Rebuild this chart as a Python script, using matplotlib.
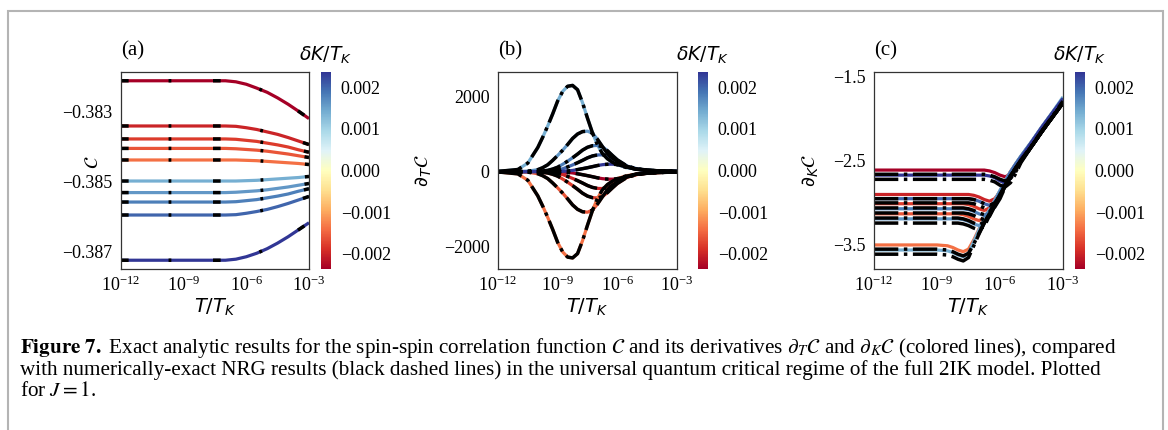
import numpy as np
import matplotlib
matplotlib.use('Agg')
import matplotlib.pyplot as plt
from matplotlib import colors
from matplotlib.patches import Rectangle
from matplotlib.ticker import FixedLocator, FuncFormatter, NullLocator

plt.rcParams['font.family'] = ['Liberation Serif', 'DejaVu Serif']
plt.rcParams['mathtext.fontset'] = 'dejavusans'

# delta K / T_K of each curve (colour)
DK = [-0.00237, -0.0020, -0.0018, -0.0016, -0.0014,
      0.0014, 0.0016, 0.0018, 0.0020, 0.00237]

# (a) C vs log10(T/T_K)
LOGT_A = [-12, -7, -6.5, -6, -5.5, -5, -4.5, -4, -3.5, -3]
C_A = [
    [-0.38212, -0.38212, -0.38215, -0.38222, -0.38233, -0.38245, -0.38261, -0.38279, -0.38299, -0.38320],
    [-0.38341, -0.38341, -0.38342, -0.38346, -0.38351, -0.38358, -0.38365, -0.38374, -0.38384, -0.38394],
    [-0.38378, -0.38378, -0.38379, -0.38382, -0.38385, -0.38390, -0.38395, -0.38401, -0.38409, -0.38416],
    [-0.38405, -0.38405, -0.38406, -0.38408, -0.38410, -0.38413, -0.38417, -0.38421, -0.38426, -0.38431],
    [-0.38438, -0.38438, -0.38438, -0.38439, -0.38440, -0.38442, -0.38444, -0.38446, -0.38448, -0.38451],
    [-0.38498, -0.38498, -0.38498, -0.38497, -0.38496, -0.38494, -0.38492, -0.38490, -0.38488, -0.38485],
    [-0.38531, -0.38531, -0.38530, -0.38528, -0.38526, -0.38523, -0.38519, -0.38515, -0.38510, -0.38505],
    [-0.38558, -0.38558, -0.38557, -0.38554, -0.38551, -0.38546, -0.38541, -0.38535, -0.38527, -0.38520],
    [-0.38595, -0.38595, -0.38594, -0.38590, -0.38585, -0.38579, -0.38571, -0.38562, -0.38552, -0.38542],
    [-0.38724, -0.38724, -0.38721, -0.38714, -0.38704, -0.38691, -0.38675, -0.38657, -0.38637, -0.38617],
]

# (b) d_T C
LOGT_B = [-12, -11, -10.5, -10, -9.75, -9.5, -9.25, -9, -8.75, -8.5, -8.25, -8, -7.75,
          -7.5, -7.25, -7, -6.75, -6.5, -6.25, -6, -5.5, -5, -4.5, -4, -3]
DTC_B = [
    [0, 0, 0, -1, -1, -2, -2, -5, -10, -20, -34, -56, -80, -106, -134, -164, -186, -198, -200, -190, -124, -62, -30, -16, -6],
    [0, 0, -1, -4, -5, -11, -23, -45, -77, -126, -180, -239, -302, -369, -419, -446, -450, -428, -360, -279, -140, -68, -36, -20, -8],
    [0, -1, -4, -8, -18, -35, -70, -119, -196, -280, -371, -469, -574, -651, -693, -700, -665, -560, -434, -315, -147, -77, -42, -25, -8],
    [0, -5, -13, -54, -108, -184, -302, -432, -572, -724, -886, -1004, -1069, -1080, -1026, -864, -670, -486, -335, -227, -119, -65, -38, -24, -8],
    [-7, -58, -230, -644, -920, -1219, -1541, -1886, -2139, -2277, -2300, -2185, -1840, -1426, -1035, -713, -483, -345, -253, -184, -104, -64, -39, -23, -7],
    [7, 58, 230, 644, 920, 1219, 1541, 1886, 2139, 2277, 2300, 2185, 1840, 1426, 1035, 713, 483, 345, 253, 184, 104, 64, 39, 23, 7],
    [0, 5, 13, 54, 108, 184, 302, 432, 572, 724, 886, 1004, 1069, 1080, 1026, 864, 670, 486, 335, 227, 119, 65, 38, 24, 8],
    [0, 1, 4, 8, 18, 35, 70, 119, 196, 280, 371, 469, 574, 651, 693, 700, 665, 560, 434, 315, 147, 77, 42, 25, 8],
    [0, 0, 1, 4, 5, 11, 23, 45, 77, 126, 180, 239, 302, 369, 419, 446, 450, 428, 360, 279, 140, 68, 36, 20, 8],
    [0, 0, 0, 1, 1, 2, 2, 5, 10, 20, 34, 56, 80, 106, 134, 164, 186, 198, 200, 190, 124, 62, 30, 16, 6],
]

# (c) d_K C
LOGT_C = [-12, -9, -8.5, -8.25, -8, -7.75, -7.5, -7.25, -7, -6.75, -6.5,
          -6.25, -6, -5.75, -5.5, -5.25, -5, -4.5, -4, -3.5, -3]
DKC_C = [
    [-2.61, -2.61, -2.61, -2.61, -2.61, -2.61, -2.61, -2.61, -2.61, -2.61, -2.62, -2.64, -2.67, -2.69, -2.66, -2.58, -2.46, -2.28, -2.10, -1.93, -1.76],
    [-2.90, -2.90, -2.90, -2.90, -2.90, -2.90, -2.90, -2.91, -2.93, -2.96, -2.98, -2.95, -2.87, -2.75, -2.64, -2.54, -2.45, -2.28, -2.10, -1.93, -1.76],
    [-3.01, -3.01, -3.01, -3.01, -3.01, -3.01, -3.02, -3.04, -3.07, -3.09, -3.06, -2.97, -2.86, -2.74, -2.63, -2.54, -2.45, -2.28, -2.10, -1.93, -1.76],
    [-3.13, -3.13, -3.13, -3.13, -3.13, -3.14, -3.16, -3.19, -3.21, -3.18, -3.08, -2.97, -2.86, -2.74, -2.63, -2.54, -2.45, -2.28, -2.10, -1.93, -1.76],
    [-3.50, -3.50, -3.51, -3.53, -3.56, -3.58, -3.55, -3.44, -3.31, -3.19, -3.08, -2.97, -2.86, -2.74, -2.63, -2.54, -2.45, -2.28, -2.10, -1.93, -1.76],
    [-3.56, -3.56, -3.57, -3.59, -3.62, -3.64, -3.60, -3.46, -3.32, -3.19, -3.08, -2.97, -2.85, -2.74, -2.63, -2.53, -2.44, -2.27, -2.09, -1.92, -1.74],
    [-3.19, -3.19, -3.19, -3.19, -3.19, -3.20, -3.22, -3.25, -3.27, -3.23, -3.10, -2.98, -2.86, -2.74, -2.63, -2.54, -2.45, -2.28, -2.10, -1.93, -1.76],
    [-3.07, -3.07, -3.07, -3.07, -3.07, -3.07, -3.08, -3.10, -3.13, -3.15, -3.11, -2.99, -2.87, -2.75, -2.64, -2.54, -2.45, -2.28, -2.10, -1.93, -1.76],
    [-2.95, -2.95, -2.95, -2.95, -2.95, -2.95, -2.95, -2.96, -2.98, -3.01, -3.03, -3.00, -2.90, -2.76, -2.64, -2.54, -2.45, -2.28, -2.10, -1.93, -1.76],
    [-2.67, -2.67, -2.67, -2.67, -2.67, -2.67, -2.67, -2.67, -2.67, -2.67, -2.68, -2.70, -2.74, -2.76, -2.71, -2.60, -2.47, -2.28, -2.10, -1.93, -1.76],
]
NRG_SHIFT_C = 0.05  # NRG curves sit slightly below in (c)

CBAR_TICKS = [-0.002, -0.001, 0.0, 0.001, 0.002]
XTICKS = [1e-12, 1e-9, 1e-6, 1e-3]

W, H = 1168, 430
fig = plt.figure(figsize=(W / 100, H / 100), dpi=100)

cmap = plt.get_cmap('RdYlBu')
norm = colors.Normalize(vmin=min(DK), vmax=max(DK))
sm = plt.cm.ScalarMappable(norm=norm, cmap=cmap)


def px_axes(x0, x1, y0, y1):
    return fig.add_axes([x0 / W, 1 - y1 / H, (x1 - x0) / W, (y1 - y0) / H])


def fmt_signed(v, digits):
    s = '{:.{}f}'.format(v, digits)
    if float(s) == 0:
        s = s.lstrip('-')
    return s.replace('-', '\u2212')


def style_axes(ax):
    ax.set_xscale('log')
    ax.set_xlim(1e-12, 1e-3)
    ax.xaxis.set_major_locator(FixedLocator(XTICKS))
    ax.xaxis.set_minor_locator(NullLocator())
    ax.tick_params(length=0, labelsize=13, pad=6)
    ax.tick_params(axis='x', pad=5)
    for sp in ax.spines.values():
        sp.set_color('#333333')
        sp.set_linewidth(0.9)
    ax.set_xlabel('$T/T_K$', fontsize=14, labelpad=1)


def add_cbar(x0):
    cax = px_axes(x0, x0 + 10, 72, 269)
    cb = fig.colorbar(sm, cax=cax)
    cb.outline.set_visible(False)
    cb.set_ticks(CBAR_TICKS)
    cb.ax.yaxis.set_major_formatter(FuncFormatter(lambda v, p: fmt_signed(v, 3)))
    cb.ax.tick_params(length=0, labelsize=13, pad=7)
    cb.ax.set_title(r'$\delta K/T_K$', fontsize=13.5, pad=8)


def draw(ax, logt, rows, dash, shift=0.0, lw=2.3):
    t = np.power(10.0, logt)
    for dk, y in zip(DK, rows):
        ax.plot(t, y, color=cmap(norm(dk)), lw=lw, solid_capstyle='butt')
    for y in rows:
        ax.plot(t, np.array(y) - shift, color='black', lw=lw + 0.2, ls=dash)


DASH_A = (0, (2.2, 11.5, 0.8, 12.0))
DASH_BC = (0, (7.0, 1.6, 1.0, 1.6))

# (a)
ax_a = px_axes(121, 309, 72, 269)
draw(ax_a, LOGT_A, C_A, DASH_A)
style_axes(ax_a)
ax_a.set_ylim(-0.38749, -0.38187)
ax_a.yaxis.set_major_locator(FixedLocator([-0.387, -0.385, -0.383]))
ax_a.yaxis.set_major_formatter(FuncFormatter(lambda v, p: fmt_signed(v, 3)))
ax_a.set_ylabel(r'$\mathcal{C}$', fontsize=14)
ax_a.yaxis.set_label_coords(-0.1, 0.54)
ax_a.text(0.0, 1.06, '(a)', transform=ax_a.transAxes, fontsize=15, va='bottom')
add_cbar(321)

# (b)
ax_b = px_axes(498, 677, 72, 269)
draw(ax_b, LOGT_B, DTC_B, DASH_BC)
style_axes(ax_b)
ax_b.set_ylim(-2595, 2658)
ax_b.yaxis.set_major_locator(FixedLocator([-2000, 0, 2000]))
ax_b.yaxis.set_major_formatter(FuncFormatter(lambda v, p: fmt_signed(v, 0)))
ax_b.set_ylabel(r'$\partial_T\mathcal{C}$', fontsize=14)
ax_b.yaxis.set_label_coords(-0.36, 0.5)
ax_b.text(0.0, 1.06, '(b)', transform=ax_b.transAxes, fontsize=15, va='bottom')
add_cbar(698)

# (c)
ax_c = px_axes(874, 1063, 72, 269)
draw(ax_c, LOGT_C, DKC_C, DASH_BC, shift=NRG_SHIFT_C)
style_axes(ax_c)
ax_c.set_ylim(-3.786, -1.444)
ax_c.yaxis.set_major_locator(FixedLocator([-3.5, -2.5, -1.5]))
ax_c.yaxis.set_major_formatter(FuncFormatter(lambda v, p: fmt_signed(v, 1)))
ax_c.set_ylabel(r'$\partial_K\mathcal{C}$', fontsize=14)
ax_c.yaxis.set_label_coords(-0.28, 0.5)
ax_c.text(0.0, 1.06, '(c)', transform=ax_c.transAxes, fontsize=15, va='bottom')
add_cbar(1075)

# caption
cap = [
    r'$\mathbf{Figure\ 7.}\ $Exact analytic results for the spin-spin correlation function $\mathcal{C}$ '
    r'and its derivatives $\partial_T\mathcal{C}$ and $\partial_K\mathcal{C}$ (colored lines), compared',
    'with numerically-exact NRG results (black dashed lines) in the universal quantum critical regime '
    'of the full 2IK model. Plotted',
    r'for $J = 1$.',
]
for i, line in enumerate(cap):
    fig.text(20 / W, 1 - (348 + 22 * i) / H, line, fontsize=15.2, va='center',
             ha='left', math_fontfamily='stix')

# page frame
fig.add_artist(Rectangle((8 / W, -0.1), (1163 - 8) / W, 1.1 - 11 / H,
                         transform=fig.transFigure, fill=False,
                         edgecolor='#b4b4b4', lw=1.5))

fig.savefig('out.png', dpi=100)
